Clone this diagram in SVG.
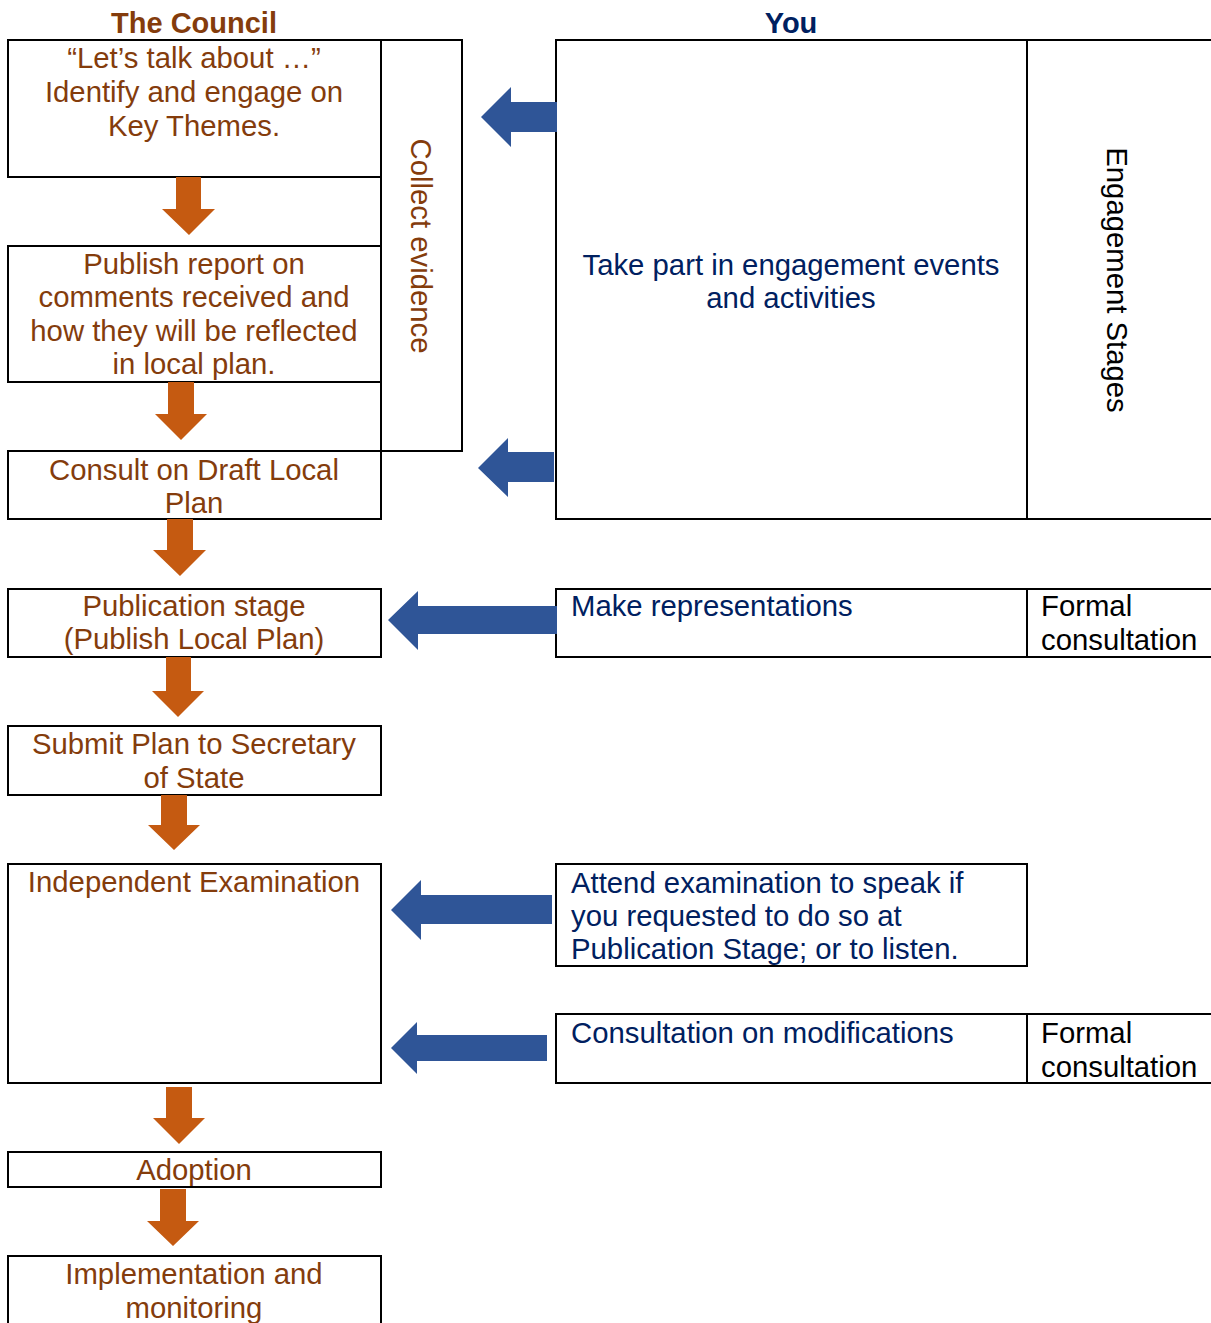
<svg xmlns="http://www.w3.org/2000/svg" width="1211" height="1323" viewBox="0 0 1211 1323">
<style>
  .box { fill: #ffffff; stroke: #000000; stroke-width: 2; }
  .line { stroke: #000000; stroke-width: 2; fill: none; }
  .ct { font-family: "Liberation Sans", Arial, sans-serif; font-size: 29.3px; fill: #843C0C; text-anchor: middle; }
  .yt { font-family: "Liberation Sans", Arial, sans-serif; font-size: 29.3px; fill: #002060; }
  .bt { font-family: "Liberation Sans", Arial, sans-serif; font-size: 29.3px; fill: #000000; }
  .hd { font-family: "Liberation Sans", Arial, sans-serif; font-size: 29px; font-weight: bold; text-anchor: middle; }
  .oa { fill: #C55A11; }
  .ba { fill: #2F5597; }
</style>
<rect x="0" y="0" width="1211" height="1323" fill="#ffffff"/>

<g id="headers">
  <text class="hd" x="194" y="33" fill="#843C0C">The Council</text>
  <text class="hd" x="791" y="33" fill="#002060">You</text>
</g>

<g id="collect-evidence">
  <rect class="box" x="381" y="40" width="81" height="411"/>
  <text class="ct" transform="translate(411,246) rotate(90)">Collect evidence</text>
</g>

<g id="council-1">
  <rect class="box" x="8" y="40" width="373" height="137"/>
  <text class="ct" x="194" y="68">“Let’s talk about …”</text>
  <text class="ct" x="194" y="102">Identify and engage on</text>
  <text class="ct" x="194" y="136">Key Themes.</text>
</g>
<g id="council-2">
  <rect class="box" x="8" y="246" width="373" height="136"/>
  <text class="ct" x="194" y="274">Publish report on</text>
  <text class="ct" x="194" y="307">comments received and</text>
  <text class="ct" x="194" y="341">how they will be reflected</text>
  <text class="ct" x="194" y="374">in local plan.</text>
</g>
<g id="council-3">
  <rect class="box" x="8" y="451" width="373" height="68"/>
  <text class="ct" x="194" y="480">Consult on Draft Local</text>
  <text class="ct" x="194" y="513">Plan</text>
</g>
<g id="council-4">
  <rect class="box" x="8" y="589" width="373" height="68"/>
  <text class="ct" x="194" y="616">Publication stage</text>
  <text class="ct" x="194" y="649">(Publish Local Plan)</text>
</g>
<g id="council-5">
  <rect class="box" x="8" y="726" width="373" height="69"/>
  <text class="ct" x="194" y="754">Submit Plan to Secretary</text>
  <text class="ct" x="194" y="788">of State</text>
</g>
<g id="council-6">
  <rect class="box" x="8" y="864" width="373" height="219"/>
  <text class="ct" x="194" y="892">Independent Examination</text>
</g>
<g id="council-7">
  <rect class="box" x="8" y="1152" width="373" height="35"/>
  <text class="ct" x="194" y="1180">Adoption</text>
</g>
<g id="council-8">
  <rect class="box" x="8" y="1256" width="373" height="80"/>
  <text class="ct" x="194" y="1284">Implementation and</text>
  <text class="ct" x="194" y="1318">monitoring</text>
</g>

<g id="you-engagement">
  <rect class="box" x="556" y="40" width="665" height="479"/>
  <line class="line" x1="1027" y1="40" x2="1027" y2="519"/>
  <text class="yt" x="791" y="275" text-anchor="middle">Take part in engagement events</text>
  <text class="yt" x="791" y="308" text-anchor="middle">and activities</text>
  <text class="bt" transform="translate(1107,280) rotate(90)" text-anchor="middle">Engagement Stages</text>
</g>
<g id="you-representations">
  <rect class="box" x="556" y="589" width="665" height="68"/>
  <line class="line" x1="1027" y1="589" x2="1027" y2="657"/>
  <text class="yt" x="571" y="616">Make representations</text>
  <text class="bt" x="1041" y="616">Formal</text>
  <text class="bt" x="1041" y="650">consultation</text>
</g>
<g id="you-examination">
  <rect class="box" x="556" y="864" width="471" height="102"/>
  <text class="yt" x="571" y="893">Attend examination to speak if</text>
  <text class="yt" x="571" y="926">you requested to do so at</text>
  <text class="yt" x="571" y="959">Publication Stage; or to listen.</text>
</g>
<g id="you-modifications">
  <rect class="box" x="556" y="1014" width="665" height="69"/>
  <line class="line" x1="1027" y1="1014" x2="1027" y2="1083"/>
  <text class="yt" x="571" y="1043">Consultation on modifications</text>
  <text class="bt" x="1041" y="1043">Formal</text>
  <text class="bt" x="1041" y="1077">consultation</text>
</g>

<g id="connectors">
  <polygon class="oa" points="176,177 201,177 201,209 215,209 189,235 162,209 176,209"/>
  <polygon class="oa" points="168,382 194,382 194,414 207,414 181,440 155,414 168,414"/>
  <polygon class="oa" points="167,519 193,519 193,550 206,550 180,576 153,550 167,550"/>
  <polygon class="oa" points="166,657 191,657 191,691 204,691 178,717 152,691 166,691"/>
  <polygon class="oa" points="161,795 187,795 187,825 200,825 174,850 148,825 161,825"/>
  <polygon class="oa" points="166,1087 192,1087 192,1118 205,1118 179,1144 153,1118 166,1118"/>
  <polygon class="oa" points="160,1189 186,1189 186,1221 199,1221 173,1246 147,1221 160,1221"/>

  <polygon class="ba" points="557,102 557,132 511,132 511,147 481,117 511,87 511,102"/>
  <polygon class="ba" points="554,452 554,482 508,482 508,497 478,468 508,438 508,452"/>
  <polygon class="ba" points="557,606 557,634 418,634 418,650 388,620 418,591 418,606"/>
  <polygon class="ba" points="552,895 552,924 421,924 421,940 391,910 421,880 421,895"/>
  <polygon class="ba" points="547,1035 547,1061 417,1061 417,1074 391,1048 417,1022 417,1035"/>
</g>
</svg>
